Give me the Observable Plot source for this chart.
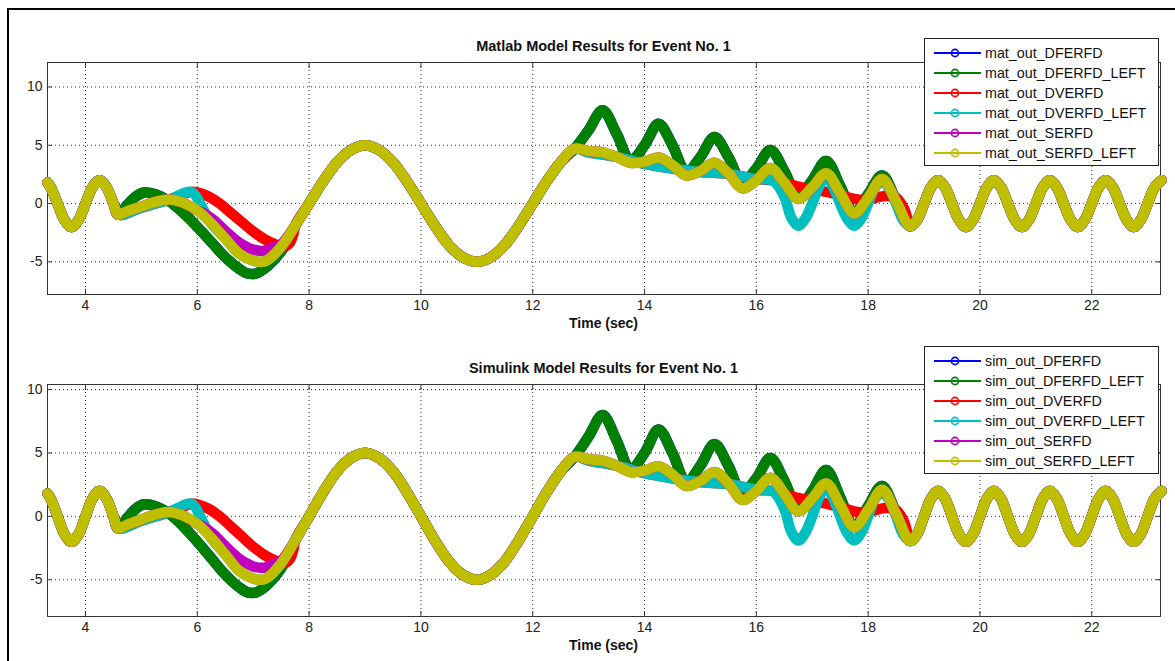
<!DOCTYPE html>
<html><head><meta charset="utf-8">
<script src="https://cdn.jsdelivr.net/npm/d3@7"></script>
<script src="https://cdn.jsdelivr.net/npm/@observablehq/plot@0.6"></script>
<style>
html,body{margin:0;padding:0;background:#fff;}
#page{position:relative;width:1175px;height:661px;overflow:hidden;font-family:"Liberation Sans",Arial,Helvetica,sans-serif;color:#111;}
.panel{position:absolute;left:0;}
.title{position:absolute;left:47px;width:1113px;text-align:center;font-weight:bold;font-size:14.5px;line-height:16px;}
.xlabel{position:absolute;left:47px;width:1113px;text-align:center;font-weight:bold;font-size:14px;line-height:16px;}
.legend{position:absolute;background:#fff;border:1px solid #222;box-sizing:border-box;}
.legend .row{position:absolute;left:0;height:20px;line-height:20px;font-size:14.3px;white-space:nowrap;color:#111;}
.legend svg{position:absolute;left:0;top:0;}
.legend span{position:absolute;left:60px;top:0;}
.frame{position:absolute;left:7px;top:8px;width:1300px;height:800px;border-top:2px solid #000;border-left:2px solid #000;}
</style></head>
<body><div id="page"><div class="frame"></div></div>
<script>
// ---- axes / labels ----
const xTicks = [4, 6, 8, 10, 12, 14, 16, 18, 20, 22];
const yTicks = [-5, 0, 5, 10];
const xDomain = [3.32, 23.23];
const yDomainMat = [-7.8, 12.1];
const yDomainSim = [-7.9, 10.4];
const seriesNames = ["DFERFD", "DFERFD_LEFT", "DVERFD", "DVERFD_LEFT", "SERFD", "SERFD_LEFT"];
const seriesColors = ["#0000ff", "#008000", "#ff0000", "#00bfbf", "#bf00bf", "#bfbf00"];
const titles = ["Matlab Model Results for Event No. 1", "Simulink Model Results for Event No. 1"];
const prefixes = ["mat_out_", "sim_out_"];
const xLabel = "Time (sec)";

// ---- data: [time, value] ----
// SERFD_LEFT (yellow), full trace
const serfdLeft = [
  [3.32,1.8],[3.375,1.41],[3.5,0],[3.625,-1.41],[3.75,-2],[3.875,-1.41],[4,0],[4.125,1.41],[4.25,2],[4.375,1.41],[4.5,0],[4.58,-0.95],
  [4.75,-0.65],[5,-0.25],[5.25,0.15],[5.5,0.35],[5.75,0.05],[6,-0.6],[6.25,-1.7],[6.5,-3.0],[6.75,-4.3],[7,-4.9],[7.15,-5.0],[7.25,-4.85],[7.5,-3.7],
  [7.75,-1.9],[8,0],[8.25,1.9],[8.5,3.55],[8.75,4.6],[9,5],[9.25,4.6],[9.5,3.55],[9.75,1.9],[10,0],[10.25,-1.9],[10.5,-3.55],[10.75,-4.6],[11,-5],
  [11.25,-4.6],[11.5,-3.55],[11.75,-1.9],[12,0],[12.25,1.9],[12.5,3.55],[12.75,4.7],
  [13,4.5],[13.25,4.4],[13.5,4.0],[13.75,3.5],[14,3.6],[14.25,3.95],[14.5,3.3],[14.75,2.4],[15,2.8],[15.25,3.5],[15.5,2.6],[15.75,1.3],
  [16,2.0],[16.25,3.05],[16.5,1.8],[16.75,0.4],[17,1.4],[17.25,2.6],[17.5,0.9],[17.75,-0.85],[18,0.5],[18.25,2.1],[18.5,0.2],[18.75,-1.95],
  [18.875,-1.4],[19,0],[19.125,1.4],[19.25,2],[19.375,1.4],[19.5,0],[19.625,-1.4],[19.75,-2],[19.875,-1.4],[20,0],[20.125,1.4],[20.25,2],
  [20.375,1.4],[20.5,0],[20.625,-1.4],[20.75,-2],[20.875,-1.4],[21,0],[21.125,1.4],[21.25,2],[21.375,1.4],[21.5,0],[21.625,-1.4],[21.75,-2],
  [21.875,-1.4],[22,0],[22.125,1.4],[22.25,2],[22.375,1.4],[22.5,0],[22.625,-1.4],[22.75,-2],[22.875,-1.4],[23,0],[23.125,1.4],[23.25,2]
];
// DFERFD_LEFT (green) where it departs from yellow
const dferfdLeftA = [[4.58,-0.95],[4.75,-0.1],[4.9,0.6],[5.05,0.95],[5.25,0.8],[5.5,0.2],[5.75,-0.8],[6,-2.0],[6.25,-3.3],[6.5,-4.6],[6.75,-5.6],[6.9,-6.0],[7.05,-6.0],[7.25,-5.4],[7.5,-4.1],[7.65,-2.9]];
const dferfdLeftB = [[12.75,4.7],[13,6.3],[13.25,8.0],[13.5,6.0],[13.75,3.7],[14,5.0],[14.25,6.85],[14.5,5.0],[14.75,2.7],[15,4.0],[15.25,5.7],[15.5,4.0],[15.75,1.8],[16,3.0],[16.25,4.6],[16.5,2.8],[16.75,0.6],[17,2.0],[17.25,3.65],[17.5,1.5],[17.75,-0.8],[18,0.8],[18.25,2.4],[18.5,0.3],[18.75,-1.95]];
// DVERFD_LEFT (cyan) where it departs from yellow
const dverfdLeftA = [[4.58,-0.95],[5,-0.35],[5.5,0.35],[5.9,1.0],[6.05,0.0],[6.15,-0.9]];
const dverfdLeftB = [[12.75,4.7],[13,4.4],[13.5,4.0],[14,3.4],[14.5,3.0],[15,2.7],[15.5,2.55],[16,2.1],[16.3,1.95],[16.5,0.6],[16.625,-1.2],[16.75,-1.9],[16.875,-1.3],[17,0],[17.125,1.5],[17.25,2.3],[17.375,1.4],[17.5,0],[17.625,-1.3],[17.75,-1.9],[17.875,-1.3],[18,0],[18.125,1.4],[18.25,1.9],[18.375,1.3],[18.5,0],[18.625,-1.4],[18.75,-1.95]];
// DVERFD (red) where it departs from cyan
const dverfdA = [[5.9,1.0],[6.0,0.95],[6.2,0.6],[6.4,0.0],[6.6,-0.8],[6.8,-1.6],[7.0,-2.4],[7.2,-3.05],[7.4,-3.5],[7.55,-3.7],[7.65,-3.4],[7.72,-2.6]];
const dverfdB = [[16.3,2.0],[16.5,1.75],[16.75,1.45],[17,1.2],[17.25,1.0],[17.5,0.7],[17.75,0.4],[17.9,0.3],[18.1,0.45],[18.3,0.65],[18.5,0.5],[18.65,-0.5],[18.75,-1.8]];
// SERFD (magenta) where it departs from yellow
const serfdA = [[6.1,-0.8],[6.3,-1.45],[6.5,-2.35],[6.75,-3.35],[7.0,-3.95],[7.2,-4.05],[7.4,-3.7],[7.5,-3.5]];

function overlay(base, segs) {
  let pts = base.filter(([x]) => !segs.some(s => x >= s[0][0] && x <= s[s.length - 1][0]));
  segs.forEach(s => { pts = pts.concat(s); });
  return pts.sort((a, b) => a[0] - b[0]);
}
const greenPts = overlay(serfdLeft, [dferfdLeftA, dferfdLeftB]);
const cyanPts = overlay(serfdLeft, [dverfdLeftA, dverfdLeftB]);
const seriesPts = [
  greenPts,                                  // DFERFD (hidden under green)
  greenPts,                                  // DFERFD_LEFT
  overlay(cyanPts, [dverfdA, dverfdB]),      // DVERFD
  cyanPts,                                   // DVERFD_LEFT
  overlay(serfdLeft, [serfdA]),              // SERFD
  serfdLeft                                  // SERFD_LEFT
];

const page = document.getElementById("page");

function panel(k, top, height, mt, mb, yDomain, titleY, labelY, legendTop) {
  const gridStyle = {stroke: "#333", strokeDasharray: "1,3", strokeWidth: 1};
  const lines = seriesPts.map((pts, i) => Plot.line(pts, {
    x: d => d[0], y: d => d[1], stroke: seriesColors[i], strokeWidth: 10.5,
    curve: "catmull-rom", strokeLinecap: "round", strokeLinejoin: "round"
  }));
  const chart = Plot.plot({
    width: 1175, height,
    marginLeft: 47, marginRight: 15, marginTop: mt, marginBottom: mb,
    x: {domain: xDomain}, y: {domain: yDomain},
    style: {fontFamily: "'Liberation Sans', Arial, sans-serif", fontSize: "14px", color: "#222", background: "transparent", overflow: "visible"},
    marks: [
      Plot.ruleX(xTicks, gridStyle),
      Plot.ruleY(yTicks, gridStyle),
      Plot.frame({stroke: "#333", strokeWidth: 1}),
      Plot.axisX(xTicks, {anchor: "bottom", tickSize: -5, tickPadding: 11, label: null, stroke: "#333", tickFormat: d => String(d)}),
      Plot.axisX(xTicks, {anchor: "top", tickSize: -5, label: null, stroke: "#333", tickFormat: () => ""}),
      Plot.axisY(yTicks, {anchor: "left", tickSize: -5, tickPadding: 10, label: null, stroke: "#333", tickFormat: d => String(d)}),
      Plot.axisY(yTicks, {anchor: "right", tickSize: -5, label: null, stroke: "#333", tickFormat: () => ""}),
      ...lines
    ]
  });
  const wrap = document.createElement("div");
  wrap.className = "panel";
  wrap.style.top = top + "px";
  wrap.appendChild(chart);
  page.appendChild(wrap);

  const t = document.createElement("div");
  t.className = "title"; t.style.top = (titleY - 8) + "px"; t.textContent = titles[k];
  page.appendChild(t);
  const xl = document.createElement("div");
  xl.className = "xlabel"; xl.style.top = (labelY - 8) + "px"; xl.textContent = xLabel;
  page.appendChild(xl);

  const lg = document.createElement("div");
  lg.className = "legend";
  lg.style.left = "924px"; lg.style.top = legendTop + "px";
  lg.style.width = "235px"; lg.style.height = "128px";
  seriesNames.forEach((n, i) => {
    const row = document.createElement("div");
    row.className = "row";
    row.style.top = (3.5 + 20 * i) + "px";
    row.style.width = "233px";
    row.innerHTML = `<svg width="60" height="20"><line x1="9" x2="56" y1="10" y2="10" stroke="${seriesColors[i]}" stroke-width="2"/><circle cx="30" cy="10" r="3.6" fill="none" stroke="${seriesColors[i]}" stroke-width="1.6"/></svg><span></span>`;
    row.querySelector("span").textContent = prefixes[k] + n;
    lg.appendChild(row);
  });
  page.appendChild(lg);
}

panel(0, 0, 330, 62, 36, yDomainMat, 46, 323, 38);
panel(1, 330, 331, 54, 45, yDomainSim, 368, 645, 346);
</script>
</body></html>
